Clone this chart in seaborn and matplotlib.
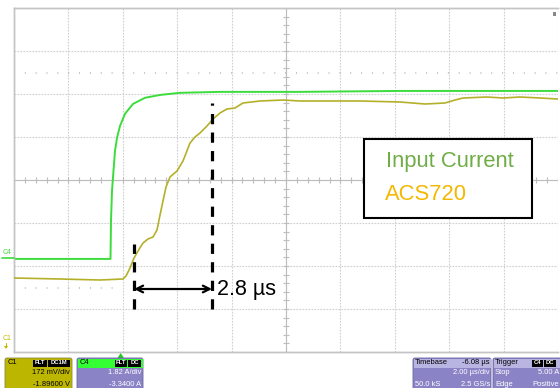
import numpy as np
import matplotlib
matplotlib.use("Agg")
import matplotlib.pyplot as plt
from matplotlib.patches import Rectangle, FancyBboxPatch, Polygon
import seaborn as sns

# ---------------- data (read from the screen) ----------------
# time axis in microseconds (2.00 us/div, delay -6.08 us)
t_green = [-3.92, -2.23, -0.43, -0.372, -0.354, -0.317, -0.262, -0.207, -0.133,
           -0.023, 0.161, 0.455, 0.896, 1.448, 2.183, 3.654, 6.595, 10.271, 16.08]
i_green = [0.0, 0.0, 0.0, 0.0, 1.61, 2.88, 3.73, 4.57, 5.12,
           5.63, 6.14, 6.56, 6.82, 6.94, 7.03, 7.07, 7.07, 7.11, 7.11]     # A

t_yellow = [-3.92, -2.229, -0.758, 0.087, 0.198, 0.345, 0.492, 0.639, 0.823, 1.006,
            1.190, 1.337, 1.448, 1.558, 1.668, 1.815, 2.073, 2.293, 2.551, 2.734,
            2.918, 3.176, 3.396, 3.654, 3.911, 4.205, 4.499, 5.124, 5.970, 6.595,
            7.698, 8.801, 10.271, 11.19, 11.926, 12.293, 12.587, 13.47, 14.058,
            14.683, 15.418, 16.08]
v_yellow = [1.504, 1.500, 1.496, 1.500, 1.512, 1.544, 1.584, 1.612, 1.644, 1.660,
            1.668, 1.696, 1.756, 1.812, 1.868, 1.908, 1.932, 1.972, 2.044, 2.068,
            2.084, 2.112, 2.140, 2.164, 2.180, 2.184, 2.204, 2.212, 2.216, 2.212,
            2.212, 2.212, 2.208, 2.200, 2.204, 2.216, 2.224, 2.228, 2.224,
            2.228, 2.224, 2.220]                                               # V

# scope settings
t_per_div, t_delay = 2.00, -6.08
c4_per_div, c4_offset = 1.82, -3.34     # A/div, A
c1_per_div, c1_offset = 0.172, -1.896   # V/div, V

# annotation
t_mark1, t_mark2 = 0.49, 3.36
delta_label = "2.8 µs"
legend_labels = ["Input Current", "ACS720"]
legend_colors = ["#70ad47", "#f5b800"]

green = "#3cdc3c"
yellow = "#b5b02a"

# ---------------- figure ----------------
sns.set_theme(style="white")
plt.rcParams["font.family"] = ["Liberation Sans", "DejaVu Sans"]

W, H = 560, 388
fig = plt.figure(figsize=(W / 100, H / 100), dpi=100)
fig.patch.set_facecolor("white")

L, R, T, B = 14, 558, 8, 352
ax = fig.add_axes([L / W, 1 - B / H, (R - L) / W, (B - T) / H])
ax2 = ax.twinx()

t_center = -t_delay
t_lo, t_hi = t_center - 5 * t_per_div, t_center + 5 * t_per_div
a_c = -c4_offset
v_c = -c1_offset
ax.set_xlim(t_lo, t_hi)
ax.set_ylim(a_c - 4 * c4_per_div, a_c + 4 * c4_per_div)
ax2.set_ylim(v_c - 4 * c1_per_div, v_c + 4 * c1_per_div)

# grid
ax.set_xticks(t_lo + t_per_div * np.arange(11))
ax.set_yticks(a_c + c4_per_div * np.arange(-4, 5))
ax.grid(True, color="#cfcfcf", lw=0.8, ls=(0, (1.5, 1.2)))
ax.tick_params(length=0, labelbottom=False, labelleft=False)
ax2.tick_params(length=0, labelright=False)
ax2.set_yticks([])
for a in (ax, ax2):
    for s in a.spines.values():
        s.set_color("#c4c4c4")
        s.set_linewidth(1.0)
    a.spines["right"].set_visible(False)

# centre cross with minor ticks
ax.axhline(a_c, color="#bdbdbd", lw=0.8, zorder=1)
ax.axvline(t_center, color="#bdbdbd", lw=0.8, zorder=1)
tick_t = t_lo + 0.2 * t_per_div * np.arange(51)
tick_a = a_c - 4 * c4_per_div + 0.2 * c4_per_div * np.arange(41)
dy = 0.07 * c4_per_div
dx = 0.06 * t_per_div
ax.vlines(tick_t, a_c - dy, a_c + dy, color="#bdbdbd", lw=0.8, zorder=1)
ax.hlines(tick_a, t_center - dx, t_center + dx, color="#bdbdbd", lw=0.8, zorder=1)

# dotted reference lines
ax.hlines(a_c + 2.49 * c4_per_div, t_lo, t_hi, color="#b0b0b0", lw=1.1,
          ls=(0, (0.6, 6.5)), zorder=1)
ax.hlines(a_c - 2.52 * c4_per_div, t_lo, 0.0, color="#b0b0b0", lw=1.1,
          ls=(0, (0.6, 6.5)), zorder=1)

# traces
sns.lineplot(x=t_green, y=i_green, ax=ax, color=green, lw=1.4, sort=False,
             estimator=None, zorder=3)
sns.lineplot(x=t_yellow, y=v_yellow, ax=ax2, color=yellow, lw=1.2, sort=False,
             estimator=None, zorder=3)
ax.set_xlim(t_lo, t_hi)

# annotation: dashed markers, arrow, label
ax2.vlines(t_mark1, 1.38, 1.64, color="black", lw=2.3, ls=(0, (3.2, 2.6)), zorder=4)
ax2.vlines(t_mark2, 1.38, 2.205, color="black", lw=2.3, ls=(0, (3.2, 2.6)), zorder=4)
ax2.annotate("", xy=(t_mark1, 1.46), xytext=(t_mark2, 1.46),
             arrowprops=dict(arrowstyle="<->", color="black", lw=1.6,
                             mutation_scale=12, shrinkA=0, shrinkB=0), zorder=4)
ax2.text(t_mark2 + 0.2, 1.46, delta_label, fontsize=15.5, color="black",
         ha="left", va="center", zorder=4)

# ---------------- overlay in pixel coordinates ----------------
ov = fig.add_axes([0, 0, 1, 1], zorder=5)
ov.set_xlim(0, W)
ov.set_ylim(H, 0)
ov.axis("off")
ov.patch.set_alpha(0)

# legend box
ov.add_patch(Rectangle((364, 139), 168, 79, fc="white", ec="black", lw=1.5))
ov.text(386, 162, legend_labels[0], color=legend_colors[0], fontsize=15.8,
        ha="left", va="center")
ov.text(385, 195, legend_labels[1], color=legend_colors[1], fontsize=15.8,
        ha="left", va="center")

# channel markers on the left
ov.text(3, 252, "C4", color=green, fontsize=5, ha="left", va="center")
ov.plot([2, 14], [258, 258], color=green, lw=1.2)
ov.text(3, 339, "C1", color="#c9b800", fontsize=5, ha="left", va="center")
ov.plot([6, 6], [343, 347], color="#c9b800", lw=0.8)
ov.add_patch(Polygon([[4, 346], [8, 346], [6, 349]], closed=True,
                     fc="#c9b800", ec="none"))
# trigger position marker
ov.add_patch(Polygon([[117.5, 358], [124, 358], [120.7, 353]], closed=True,
                     fc="#22cc22", ec="none"))
# small marker top right
ov.add_patch(Rectangle((553, 12), 3, 4, fc="#888888", ec="none"))

fs = 5.4

def badge(x, y, txt, w):
    ov.add_patch(Rectangle((x, y - 3.5), w, 7, fc="black", ec="none"))
    ov.text(x + w / 2, y, txt, color="white", fontsize=4.2, ha="center",
            va="center", fontweight="bold")

# C1 panel
ov.add_patch(FancyBboxPatch((5, 358), 67, 34, boxstyle="round,pad=0,rounding_size=2",
                            fc="#bdb600", ec="#8a8a40", lw=0.6))
ov.text(8, 363, "C1", fontsize=fs, color="black", ha="left", va="center")
badge(33, 363, "FLT", 14)
badge(48, 363, "DC1M", 22)
ov.text(70, 373, "172 mV/div", fontsize=fs, color="black", ha="right", va="center")
ov.text(70, 384, "-1.89600 V", fontsize=fs, color="black", ha="right", va="center")

# C4 panel
ov.add_patch(FancyBboxPatch((77, 358), 66, 34, boxstyle="round,pad=0,rounding_size=2",
                            fc="#8a84c6", ec="#6a66a0", lw=0.6))
ov.add_patch(Rectangle((77.5, 358.5), 65, 9, fc="#33ff33", ec="none"))
ov.text(80, 363, "C4", fontsize=fs, color="black", ha="left", va="center")
badge(115, 363, "FLT", 12)
badge(128, 363, "DC", 13)
ov.text(141, 373, "1.82 A/div", fontsize=fs, color="white", ha="right", va="center")
ov.text(141, 384, "-3.3400 A", fontsize=fs, color="white", ha="right", va="center")

# Timebase panel
ov.add_patch(FancyBboxPatch((413, 358), 78, 34, boxstyle="round,pad=0,rounding_size=2",
                            fc="#8a84c6", ec="#6a66a0", lw=0.6))
ov.add_patch(Rectangle((413.5, 358.5), 77, 9, fc="#b9b5e2", ec="none"))
ov.text(415, 363, "Timebase", fontsize=fs, color="black", ha="left", va="center")
ov.text(490, 363, "-6.08 µs", fontsize=fs, color="black", ha="right", va="center")
ov.text(490, 373, "2.00 µs/div", fontsize=fs, color="white", ha="right", va="center")
ov.text(415, 384, "50.0 kS", fontsize=fs, color="white", ha="left", va="center")
ov.text(490, 384, "2.5 GS/s", fontsize=fs, color="white", ha="right", va="center")

# Trigger panel
ov.add_patch(FancyBboxPatch((493, 358), 72, 34, boxstyle="round,pad=0,rounding_size=2",
                            fc="#8a84c6", ec="#6a66a0", lw=0.6))
ov.add_patch(Rectangle((493.5, 358.5), 71, 9, fc="#b9b5e2", ec="none"))
ov.text(495, 363, "Trigger", fontsize=fs, color="black", ha="left", va="center")
badge(532, 363, "C4", 11)
badge(544, 363, "DC", 12)
ov.text(495, 373, "Stop", fontsize=fs, color="white", ha="left", va="center")
ov.text(559, 373, "5.00 A", fontsize=fs, color="white", ha="right", va="center")
ov.text(495, 384, "Edge", fontsize=fs, color="white", ha="left", va="center")
ov.text(559, 384, "Positive", fontsize=fs, color="white", ha="right", va="center")

fig.savefig("out.png", dpi=100, facecolor="white")
